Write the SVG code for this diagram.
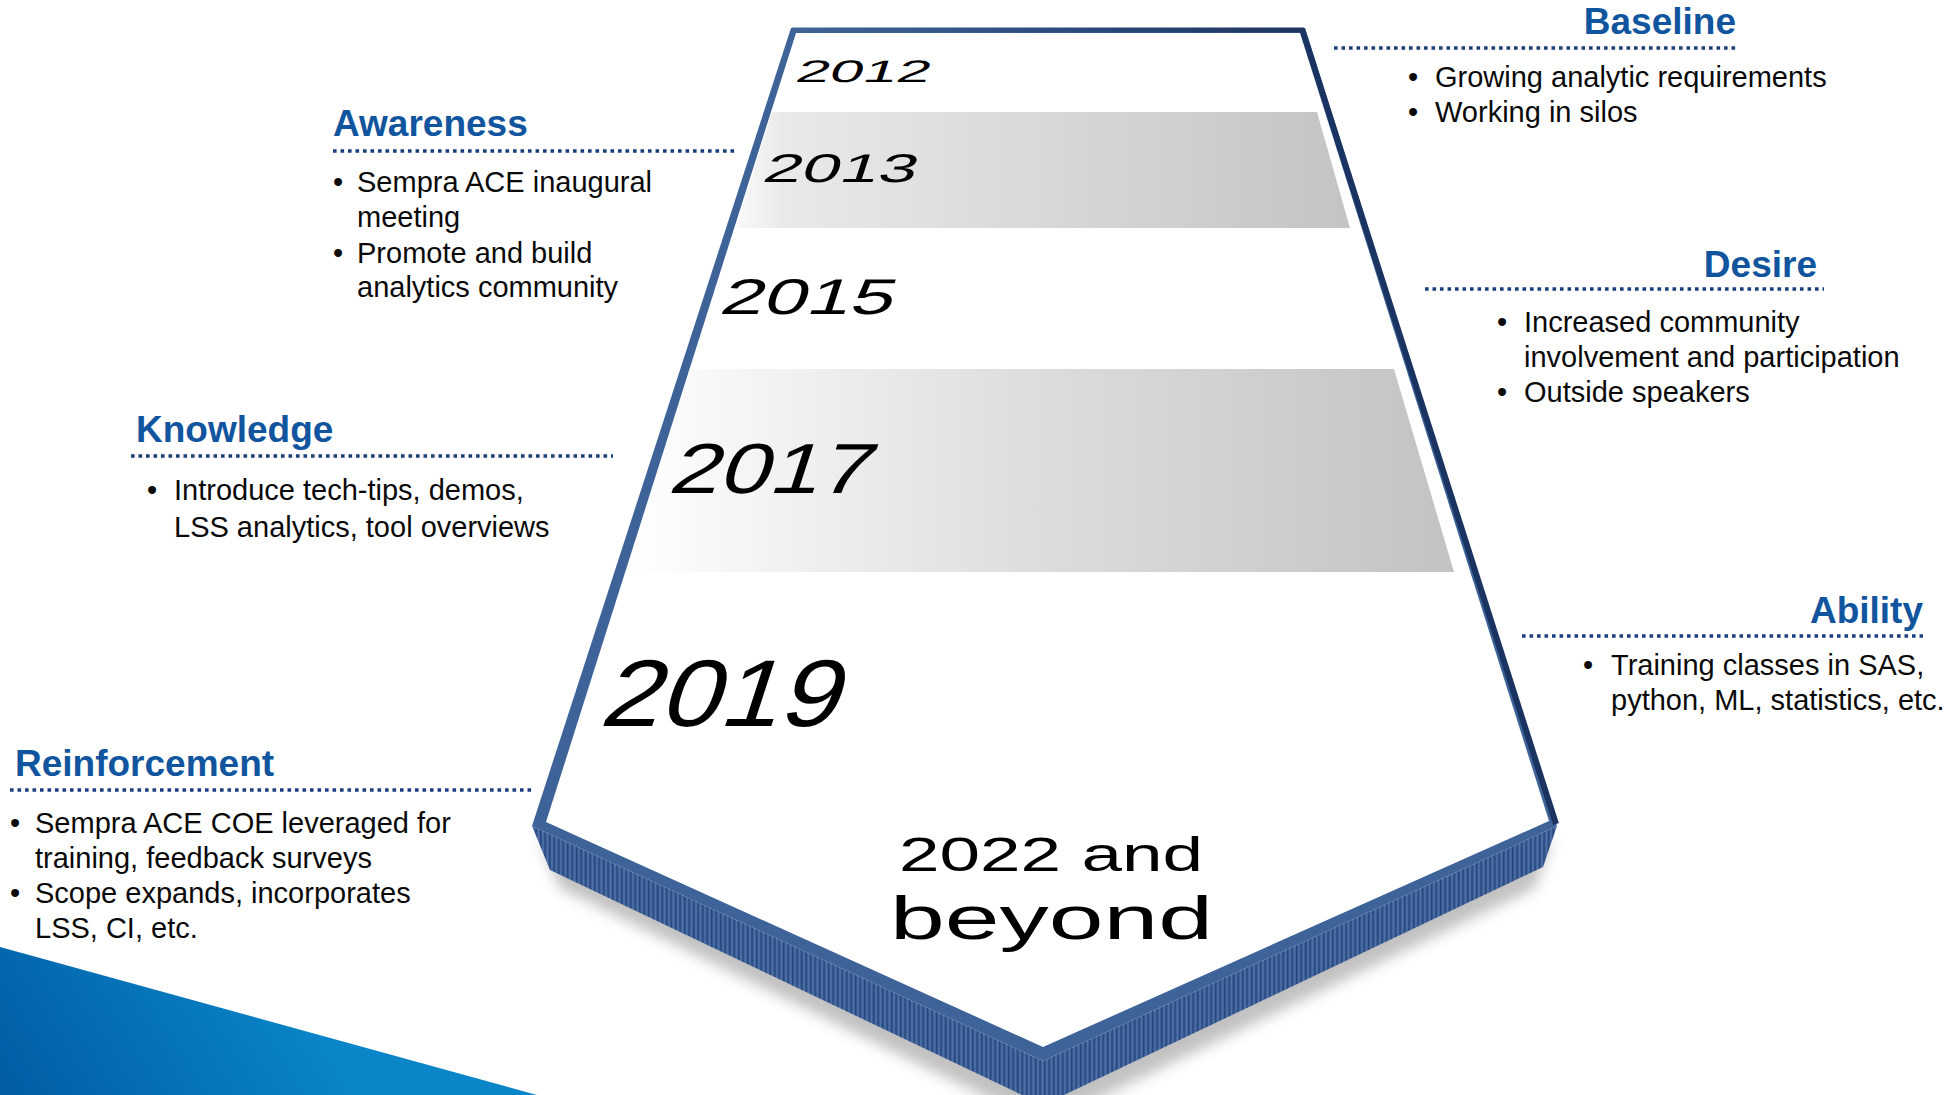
<svg xmlns="http://www.w3.org/2000/svg" width="1957" height="1095" viewBox="0 0 1957 1095">
<style>
.h{font-family:"Liberation Sans",Arial,sans-serif;font-weight:bold;font-size:37px;fill:#11559E}
.b{font-family:"Liberation Sans",Arial,sans-serif;font-size:29px;fill:#0a0a0a}
.yr{font-family:"Liberation Sans",Arial,sans-serif;fill:#000}
.dot{stroke:#1B3F7E;stroke-width:3.6;stroke-dasharray:3.6 3.9;fill:none}
</style>
<defs>
<linearGradient id="tri" gradientUnits="userSpaceOnUse" x1="0" y1="1095" x2="260" y2="930">
<stop offset="0" stop-color="#005CA5"/><stop offset="1" stop-color="#0A86C8"/>
</linearGradient>
<linearGradient id="band1" gradientUnits="userSpaceOnUse" x1="735" y1="0" x2="1360" y2="0">
<stop offset="0" stop-color="#fafafa"/><stop offset="0.08" stop-color="#e9e9e9"/><stop offset="1" stop-color="#c3c3c3"/>
</linearGradient>
<linearGradient id="band2" gradientUnits="userSpaceOnUse" x1="630" y1="0" x2="1460" y2="0">
<stop offset="0" stop-color="#ffffff"/><stop offset="0.12" stop-color="#f6f6f6"/><stop offset="0.5" stop-color="#dcdcdc"/><stop offset="1" stop-color="#c2c2c2"/>
</linearGradient>
<linearGradient id="topedge" gradientUnits="userSpaceOnUse" x1="790" y1="0" x2="1305" y2="0">
<stop offset="0" stop-color="#3F6498"/><stop offset="1" stop-color="#1C3562"/>
</linearGradient>
<pattern id="stripes" patternUnits="userSpaceOnUse" width="4.5" height="10">
<rect width="4.5" height="10" fill="#3D6099"/>
<rect x="0" width="1.4" height="10" fill="#28477A"/>
<rect x="2.4" width="1" height="10" fill="#5378AE"/>
</pattern>
<filter id="blur" x="-10%" y="-10%" width="120%" height="130%">
<feGaussianBlur stdDeviation="7"/>
</filter>
</defs>

<rect width="1957" height="1095" fill="#ffffff"/>

<g id="background-wedge">
<polygon points="0,947 537,1095 0,1095" fill="url(#tri)"/>
</g>

<g id="pentagon">
<polygon points="540,840 560,888 1043,1125 1535,888 1552,840 1043,1080" fill="#777" opacity="0.45" filter="url(#blur)"/>
<polygon points="532,826 550,870 1043,1105 1543,867 1557,826 1043,1061" fill="url(#stripes)"/>
<polygon points="791,28 1305,28 1557,826 1043,1061 532,826" fill="#3E6399"/>
<line x1="1302" y1="29" x2="1556" y2="824" stroke="#1A3360" stroke-width="6"/>
<line x1="792" y1="30" x2="1304" y2="30" stroke="url(#topedge)" stroke-width="5"/>
<polygon points="796,33 1300,33 1549,821 1043,1047 546,822" fill="#ffffff"/>
<polygon points="772,112 1317,112 1350,228 736,228" fill="url(#band1)"/>
<polygon points="690,369 1394,369 1454,572 628,572" fill="url(#band2)"/>
</g>

<g id="year-2012"><text class="yr" transform="translate(794,82) skewX(-18)" font-size="31" textLength="134" lengthAdjust="spacingAndGlyphs">2012</text></g>
<g id="year-2013"><text class="yr" transform="translate(761,182) skewX(-18)" font-size="40" textLength="153" lengthAdjust="spacingAndGlyphs">2013</text></g>
<g id="year-2015"><text class="yr" transform="translate(718,314) skewX(-18)" font-size="50" textLength="173" lengthAdjust="spacingAndGlyphs">2015</text></g>
<g id="year-2017"><text class="yr" transform="translate(667,493) skewX(-18)" font-size="71" textLength="200" lengthAdjust="spacingAndGlyphs">2017</text></g>
<g id="year-2019"><text class="yr" transform="translate(598,726) skewX(-18)" font-size="95" textLength="238" lengthAdjust="spacingAndGlyphs">2019</text></g>
<g id="year-2022"><text class="yr" x="899" y="871" font-size="49" textLength="304" lengthAdjust="spacingAndGlyphs">2022 and</text>
<text class="yr" x="890" y="939" font-size="62" textLength="323" lengthAdjust="spacingAndGlyphs">beyond</text></g>

<g id="baseline">
<text class="h" x="1736" y="34" text-anchor="end">Baseline</text>
<line class="dot" x1="1334" y1="48" x2="1736" y2="48"/>
<text class="b" x="1408" y="87">•</text><text class="b" x="1435" y="87">Growing analytic requirements</text>
<text class="b" x="1408" y="122">•</text><text class="b" x="1435" y="122">Working in silos</text>
</g>

<g id="awareness">
<text class="h" x="333" y="136">Awareness</text>
<line class="dot" x1="333" y1="151" x2="737" y2="151"/>
<text class="b" x="333" y="192">•</text><text class="b" x="357" y="192">Sempra ACE inaugural</text>
<text class="b" x="357" y="227">meeting</text>
<text class="b" x="333" y="263">•</text><text class="b" x="357" y="263">Promote and build</text>
<text class="b" x="357" y="297">analytics community</text>
</g>

<g id="desire">
<text class="h" x="1817" y="277" text-anchor="end">Desire</text>
<line class="dot" x1="1425" y1="289" x2="1824" y2="289"/>
<text class="b" x="1497" y="332">•</text><text class="b" x="1524" y="332">Increased community</text>
<text class="b" x="1524" y="367">involvement and participation</text>
<text class="b" x="1497" y="402">•</text><text class="b" x="1524" y="402">Outside speakers</text>
</g>

<g id="knowledge">
<text class="h" x="136" y="442">Knowledge</text>
<line class="dot" x1="131" y1="456" x2="613" y2="456"/>
<text class="b" x="147" y="500">•</text><text class="b" x="174" y="500">Introduce tech-tips, demos,</text>
<text class="b" x="174" y="537">LSS analytics, tool overviews</text>
</g>

<g id="ability">
<text class="h" x="1923" y="623" text-anchor="end">Ability</text>
<line class="dot" x1="1522" y1="636" x2="1923" y2="636"/>
<text class="b" x="1583" y="675">•</text><text class="b" x="1611" y="675">Training classes in SAS,</text>
<text class="b" x="1611" y="710">python, ML, statistics, etc.</text>
</g>

<g id="reinforcement">
<text class="h" x="15" y="776">Reinforcement</text>
<line class="dot" x1="10" y1="790" x2="534" y2="790"/>
<text class="b" x="10" y="833">•</text><text class="b" x="35" y="833">Sempra ACE COE leveraged for</text>
<text class="b" x="35" y="868">training, feedback surveys</text>
<text class="b" x="10" y="903">•</text><text class="b" x="35" y="903">Scope expands, incorporates</text>
<text class="b" x="35" y="938">LSS, CI, etc.</text>
</g>
</svg>
